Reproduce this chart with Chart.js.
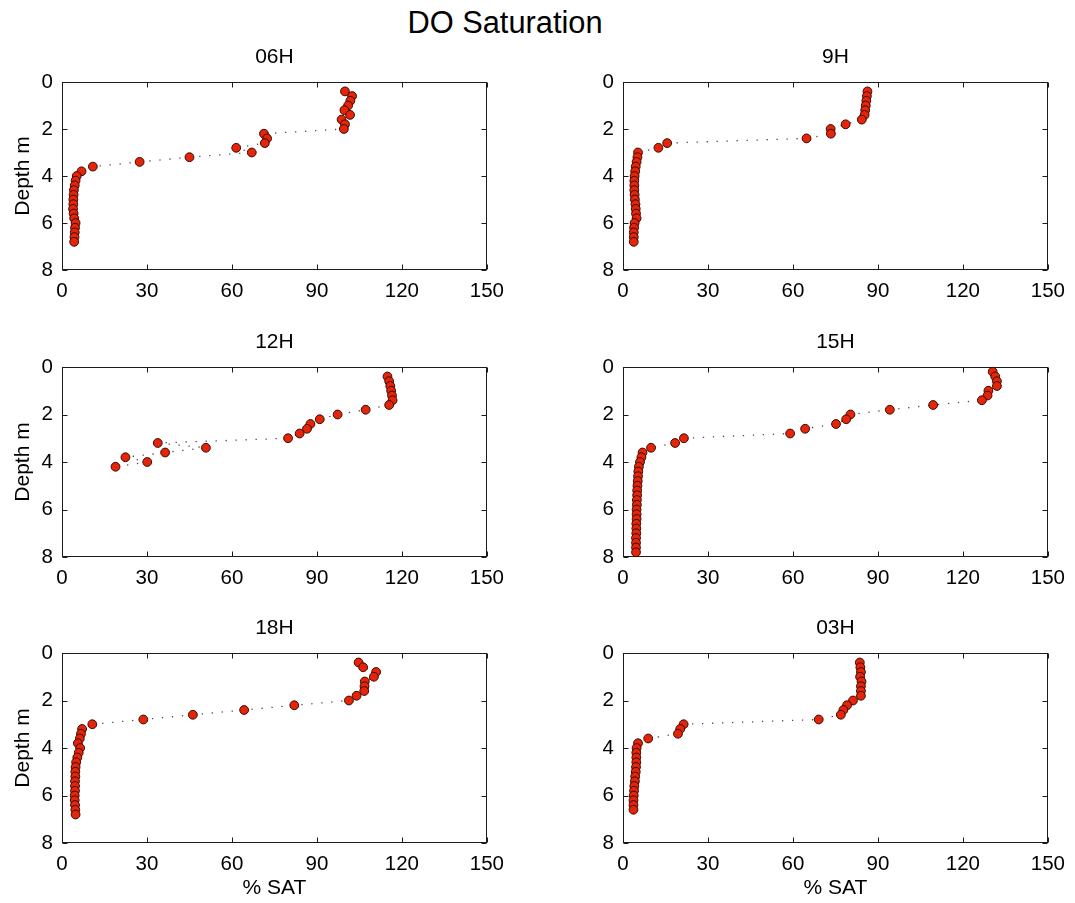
<!DOCTYPE html>
<html>
<head>
<meta charset="utf-8">
<title>DO Saturation</title>
<script src="https://cdn.jsdelivr.net/npm/chart.js@4.4.1/dist/chart.umd.min.js"></script>
<style>
  html, body { margin: 0; padding: 0; background: #fff; }
  #fig { position: relative; width: 1075px; height: 903px; overflow: hidden; background: #fff; }
  #suptitle {
    position: absolute; left: 0; top: 5px; width: 1010px; text-align: center;
    font-family: "Liberation Sans", Arial, Helvetica, sans-serif;
    font-size: 30.8px; line-height: 36px; color: #000;
  }
  .panel { position: absolute; }
  .panel canvas { display: block; }
</style>
</head>
<body>
<div id="fig">
  <div id="suptitle">DO Saturation</div>
</div>
<script>
// Dissolved-oxygen saturation profiles (% SAT) against depth (m), one per sampling hour.

const DEPTH_06 = [0.4, 0.6, 0.8, 1.0, 1.2, 1.4, 1.6, 1.8, 2.0, 2.2, 2.4, 2.6, 2.8, 3.0, 3.2, 3.4, 3.6, 3.8, 4.0, 4.2, 4.4, 4.6, 4.8, 5.0, 5.2, 5.4, 5.6, 5.8, 6.0, 6.2, 6.4, 6.6, 6.8];
const SAT_06   = [99.9, 102.4, 101.8, 101.0, 99.7, 101.7, 98.7, 99.9, 99.5, 71.3, 72.4, 71.6, 61.5, 67.0, 45.0, 27.4, 10.9, 6.9, 5.2, 4.8, 4.5, 4.2, 4.1, 4.0, 4.0, 3.9, 4.1, 4.3, 4.8, 4.6, 4.5, 4.4, 4.3];

const DEPTH_09 = [0.4, 0.6, 0.8, 1.0, 1.2, 1.4, 1.6, 1.8, 2.0, 2.2, 2.4, 2.6, 2.8, 3.0, 3.2, 3.4, 3.6, 3.8, 4.0, 4.2, 4.4, 4.6, 4.8, 5.0, 5.2, 5.4, 5.6, 5.8, 6.0, 6.2, 6.4, 6.6, 6.8];
const SAT_09   = [86.3, 86.1, 85.9, 85.7, 85.5, 85.3, 84.3, 78.6, 73.3, 73.4, 64.8, 15.6, 12.5, 5.3, 5.1, 4.8, 4.5, 4.3, 4.1, 4.0, 4.0, 4.0, 4.1, 4.2, 4.4, 4.5, 4.6, 4.8, 4.1, 3.9, 3.8, 3.8, 3.8];

const DEPTH_12 = [0.4, 0.6, 0.8, 1.0, 1.2, 1.4, 1.6, 1.8, 2.0, 2.2, 2.4, 2.6, 2.8, 3.0, 3.2, 3.4, 3.6, 3.8, 4.0, 4.2];
const SAT_12   = [114.9, 115.5, 115.9, 116.2, 116.5, 116.7, 115.5, 107.2, 97.3, 91.0, 87.7, 86.5, 83.9, 79.8, 33.8, 50.8, 36.4, 22.4, 30.1, 18.9];

const DEPTH_15 = [0.2, 0.4, 0.6, 0.8, 1.0, 1.2, 1.4, 1.6, 1.8, 2.0, 2.2, 2.4, 2.6, 2.8, 3.0, 3.2, 3.4, 3.6, 3.8, 4.0, 4.2, 4.4, 4.6, 4.8, 5.0, 5.2, 5.4, 5.6, 5.8, 6.0, 6.2, 6.4, 6.6, 6.8, 7.0, 7.2, 7.4, 7.6, 7.8];
const SAT_15   = [130.5, 131.4, 132.0, 132.0, 129.0, 128.7, 126.7, 109.5, 94.2, 80.3, 78.8, 75.2, 64.3, 59.0, 21.5, 18.4, 9.9, 6.9, 6.5, 6.0, 5.6, 5.4, 5.3, 5.2, 5.1, 5.0, 5.0, 4.9, 4.9, 4.8, 4.8, 4.8, 4.7, 4.7, 4.7, 4.6, 4.6, 4.6, 4.6];

const DEPTH_18 = [0.4, 0.6, 0.8, 1.0, 1.2, 1.4, 1.6, 1.8, 2.0, 2.2, 2.4, 2.6, 2.8, 3.0, 3.2, 3.4, 3.6, 3.8, 4.0, 4.2, 4.4, 4.6, 4.8, 5.0, 5.2, 5.4, 5.6, 5.8, 6.0, 6.2, 6.4, 6.6, 6.8];
const SAT_18   = [104.7, 106.3, 110.9, 110.1, 106.9, 106.8, 106.7, 104.0, 101.3, 82.0, 64.3, 46.2, 28.7, 10.7, 7.1, 6.7, 6.3, 5.6, 6.4, 5.9, 5.4, 5.0, 4.8, 4.7, 4.7, 4.6, 4.6, 4.6, 4.5, 4.5, 4.6, 4.7, 4.8];

const DEPTH_03 = [0.4, 0.6, 0.8, 1.0, 1.2, 1.4, 1.6, 1.8, 2.0, 2.2, 2.4, 2.6, 2.8, 3.0, 3.2, 3.4, 3.6, 3.8, 4.0, 4.2, 4.4, 4.6, 4.8, 5.0, 5.2, 5.4, 5.6, 5.8, 6.0, 6.2, 6.4, 6.6];
const SAT_03   = [83.6, 83.8, 84.0, 83.7, 84.2, 84.0, 84.0, 84.0, 81.2, 79.1, 77.8, 76.9, 69.1, 21.4, 20.2, 19.4, 8.9, 5.3, 4.8, 4.7, 4.7, 4.7, 4.6, 4.5, 4.3, 4.2, 4.0, 3.9, 3.8, 3.7, 3.7, 3.7];

const PANEL_TITLES = ['06H', '9H', '12H', '15H', '18H', '03H'];
const SAT_AXIS   = { min: 0, max: 150, step: 30, label: '% SAT' };
const DEPTH_AXIS = { min: 0, max: 8, step: 2, label: 'Depth m' };

const FONT_FAMILY = '"Liberation Sans", Arial, Helvetica, sans-serif';
Chart.defaults.font.family = FONT_FAMILY;
Chart.defaults.color = '#000';

// Boxed axes with short inward ticks on all four sides.
const boxFrame = {
  id: 'boxFrame',
  beforeDatasetsDraw(chart) {
    const { ctx, chartArea: a, scales } = chart;
    const xs = scales.x, ys = scales.y;
    const L = Math.round(a.left) + 0.5, R = Math.round(a.right) - 0.5;
    const T = Math.round(a.top) + 0.5, B = Math.round(a.bottom) - 0.5;
    const len = 5;
    ctx.save();
    ctx.strokeStyle = '#1b1b1b';
    ctx.lineWidth = 1;
    ctx.strokeRect(L, T, R - L, B - T);
    ctx.beginPath();
    xs.ticks.forEach(t => {
      const px = Math.round(xs.getPixelForValue(t.value)) + 0.5;
      ctx.moveTo(px, B); ctx.lineTo(px, B - len);
      ctx.moveTo(px, T); ctx.lineTo(px, T + len);
    });
    ys.ticks.forEach(t => {
      const py = Math.round(ys.getPixelForValue(t.value)) + 0.5;
      ctx.moveTo(L, py); ctx.lineTo(L + len, py);
      ctx.moveTo(R, py); ctx.lineTo(R - len, py);
    });
    ctx.stroke();
    ctx.restore();
  }
};

const panels = [
  { title: PANEL_TITLES[0], depth: DEPTH_06, sat: SAT_06, row: 0, col: 0 },
  { title: PANEL_TITLES[1], depth: DEPTH_09, sat: SAT_09, row: 0, col: 1 },
  { title: PANEL_TITLES[2], depth: DEPTH_12, sat: SAT_12, row: 1, col: 0 },
  { title: PANEL_TITLES[3], depth: DEPTH_15, sat: SAT_15, row: 1, col: 1 },
  { title: PANEL_TITLES[4], depth: DEPTH_18, sat: SAT_18, row: 2, col: 0 },
  { title: PANEL_TITLES[5], depth: DEPTH_03, sat: SAT_03, row: 2, col: 1 }
];

// Grid geometry (pixels)
const ROW_TOP   = [82, 367, 653];
const ROW_H     = [188, 190, 190];
const COL_LEFT  = [62, 623];
const PLOT_W    = 426;
const BOX_LEFT  = [0, 570];
const TITLE_BOX = 40;
const RIGHT_PAD = 25;

const fig = document.getElementById('fig');

panels.forEach(p => {
  const yAxisW = COL_LEFT[p.col] - BOX_LEFT[p.col];
  const bottomRow = p.row === 2;
  const xAxisH = bottomRow ? 60 : 40;
  const w = yAxisW + PLOT_W + RIGHT_PAD;
  const h = TITLE_BOX + ROW_H[p.row] + xAxisH;

  const div = document.createElement('div');
  div.className = 'panel';
  div.style.left = BOX_LEFT[p.col] + 'px';
  div.style.top = (ROW_TOP[p.row] - TITLE_BOX) + 'px';
  div.style.width = w + 'px';
  div.style.height = h + 'px';
  const canvas = document.createElement('canvas');
  canvas.width = w; canvas.height = h;
  canvas.style.width = w + 'px'; canvas.style.height = h + 'px';
  div.appendChild(canvas);
  fig.appendChild(div);

  const points = p.depth.map((d, i) => ({ x: p.sat[i], y: d }));

  new Chart(canvas.getContext('2d'), {
    type: 'scatter',
    data: {
      datasets: [{
        data: points,
        showLine: true,
        borderColor: '#4a4a4a',
        borderWidth: 1.3,
        borderDash: [1.3, 8.7],
        pointRadius: 4.4,
        pointHoverRadius: 4.4,
        pointBorderWidth: 1,
        pointBackgroundColor: '#e5250a',
        pointBorderColor: '#3a0800',
        clip: false
      }]
    },
    options: {
      responsive: false,
      devicePixelRatio: 1,
      animation: false,
      events: [],
      layout: { padding: { left: 0, right: RIGHT_PAD, top: 0, bottom: 0 } },
      plugins: {
        legend: { display: false },
        tooltip: { enabled: false },
        title: {
          display: true,
          text: p.title,
          fullSize: false,
          color: '#000',
          font: { size: 21, weight: 'normal', family: FONT_FAMILY },
          padding: { top: 3, bottom: 11.8 }
        }
      },
      scales: {
        x: {
          type: 'linear',
          position: 'bottom',
          min: SAT_AXIS.min,
          max: SAT_AXIS.max,
          grid: { display: false, drawTicks: false },
          border: { display: false },
          ticks: {
            stepSize: SAT_AXIS.step,
            maxRotation: 0,
            padding: 9,
            color: '#000',
            font: { size: 20.5, family: FONT_FAMILY }
          },
          title: {
            display: bottomRow,
            text: SAT_AXIS.label,
            color: '#000',
            font: { size: 21, family: FONT_FAMILY },
            padding: { top: 0, bottom: 2.5 }
          },
          afterFit: s => { s.height = xAxisH; }
        },
        y: {
          type: 'linear',
          position: 'left',
          reverse: true,
          min: DEPTH_AXIS.min,
          max: DEPTH_AXIS.max,
          grid: { display: false, drawTicks: false },
          border: { display: false },
          ticks: {
            stepSize: DEPTH_AXIS.step,
            padding: 9,
            color: '#000',
            font: { size: 20.5, family: FONT_FAMILY }
          },
          title: {
            display: p.col === 0,
            text: DEPTH_AXIS.label,
            color: '#000',
            font: { size: 21, family: FONT_FAMILY },
            padding: { top: 10.5, bottom: 0 }
          },
          afterFit: s => { s.width = yAxisW; }
        }
      }
    },
    plugins: [boxFrame]
  });
});
</script>
</body>
</html>
